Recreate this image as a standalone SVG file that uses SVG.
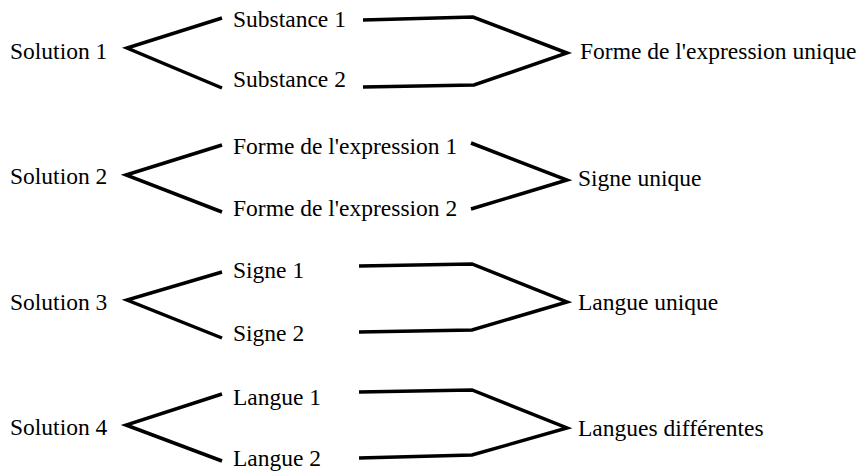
<svg xmlns="http://www.w3.org/2000/svg" width="861" height="471" viewBox="0 0 861 471">
<style>
text { font-family: "Liberation Serif", "Times New Roman", serif; font-size: 23.5px; fill: #000; }
.c { fill: none; stroke: #000; stroke-width: 3.5; stroke-linejoin: miter; stroke-linecap: butt; }
</style>
<rect width="861" height="471" fill="#fff"/>
<g id="connectors">
  <polyline class="c" points="222,18 127,48 222,88"/>
  <polyline class="c" points="363,20 473,17 567,53 474,85 363,87"/>
  <polyline class="c" points="222,145 126,175 222,212"/>
  <polyline class="c" points="471,143 567,180 471,209"/>
  <polyline class="c" points="222,272 127,300 222,338"/>
  <polyline class="c" points="359,266 472,264 567,302 472,330 359,332"/>
  <polyline class="c" points="222,394 126,425 222,461"/>
  <polyline class="c" points="359,392 472,390 567,428 472,455 359,458"/>
</g>
<g id="solution1"><text x="10" y="59">Solution 1</text></g>
<g id="substance1"><text x="233" y="27">Substance 1</text></g>
<g id="substance2"><text x="233" y="87">Substance 2</text></g>
<g id="forme-unique"><text x="580" y="59">Forme de l'expression unique</text></g>
<g id="solution2"><text x="10" y="184">Solution 2</text></g>
<g id="forme1"><text x="233" y="154">Forme de l'expression 1</text></g>
<g id="forme2"><text x="233" y="216">Forme de l'expression 2</text></g>
<g id="signe-unique"><text x="578" y="186">Signe unique</text></g>
<g id="solution3"><text x="10" y="310">Solution 3</text></g>
<g id="signe1"><text x="233" y="278">Signe 1</text></g>
<g id="signe2"><text x="233" y="341">Signe 2</text></g>
<g id="langue-unique"><text x="578" y="310">Langue unique</text></g>
<g id="solution4"><text x="10" y="435">Solution 4</text></g>
<g id="langue1"><text x="233" y="405">Langue 1</text></g>
<g id="langue2"><text x="233" y="466">Langue 2</text></g>
<g id="langues-differentes"><text x="578" y="436">Langues différentes</text></g>
</svg>
